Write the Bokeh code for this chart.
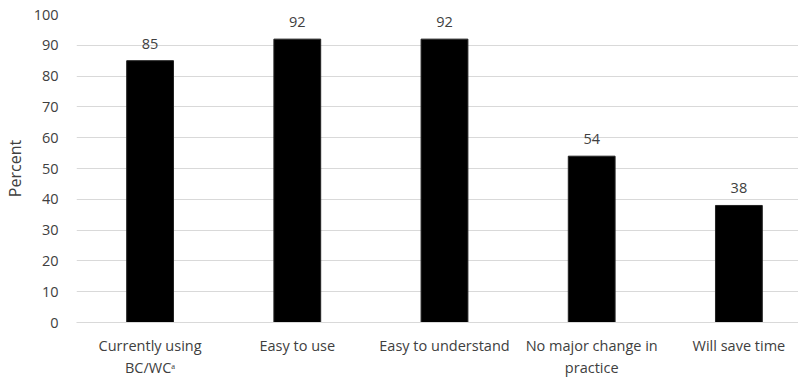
from bokeh.plotting import figure
from bokeh.models import Range1d, FixedTicker, ColumnDataSource
from bokeh.core.properties import value
from bokeh.embed import file_html
from bokeh.resources import INLINE

categories = ["Currently using\nBC/WC\u1d43", "Easy to use", "Easy to understand",
              "No major change in\npractice", "Will save time"]
values = [85, 92, 92, 54, 38]
y_ticks = [0, 10, 20, 30, 40, 50, 60, 70, 80, 90, 100]

FONT = "Open Sans"
TXT = "#404040"
FS = "14.5px"

xs = [i + 0.5 for i in range(len(categories))]
src = ColumnDataSource(dict(x=xs, top=values, label=[str(v) for v in values]))

p = figure(width=798, height=380, output_backend="svg", toolbar_location=None,
           x_range=Range1d(0, 4.905), y_range=Range1d(0, 100),
           min_border_left=72, min_border_right=0, min_border_top=14, min_border_bottom=53)
p.outline_line_color = None
p.background_fill_color = "white"

p.vbar(x="x", top="top", width=0.318, bottom=0, source=src,
       fill_color="black", line_color="#222222", line_width=1)
p.text(x="x", y="top", text="label", source=src, text_align="center",
       text_baseline="bottom", y_offset=-12, text_font_size=FS,
       text_color=TXT, text_font=value(FONT))

p.xaxis.ticker = FixedTicker(ticks=xs)
p.xaxis.major_label_overrides = {x: c for x, c in zip(xs, categories)}
p.xaxis.major_tick_line_color = None
p.xaxis.minor_tick_line_color = None
p.xaxis.axis_line_color = "#d9d9d9"
p.xaxis.major_label_text_font = FONT
p.xaxis.major_label_text_font_size = FS
p.xaxis.major_label_text_color = TXT
p.xaxis.major_label_standoff = 7

p.yaxis.ticker = FixedTicker(ticks=y_ticks)
p.yaxis.axis_line_color = None
p.yaxis.major_tick_line_color = None
p.yaxis.minor_tick_line_color = None
p.yaxis.major_label_text_font = FONT
p.yaxis.major_label_text_font_size = FS
p.yaxis.major_label_text_color = TXT
p.yaxis.major_label_standoff = 12
p.yaxis.axis_label = "Percent"
p.yaxis.axis_label_text_font = FONT
p.yaxis.axis_label_text_font_size = "16px"
p.yaxis.axis_label_text_font_style = "normal"
p.yaxis.axis_label_text_color = TXT
p.yaxis.axis_label_standoff = 5

p.xgrid.grid_line_color = None
p.ygrid.ticker = FixedTicker(ticks=y_ticks)
p.ygrid.grid_line_color = "#d9d9d9"
p.ygrid.grid_line_width = 1

open("out.html", "w").write(file_html(p, INLINE))
